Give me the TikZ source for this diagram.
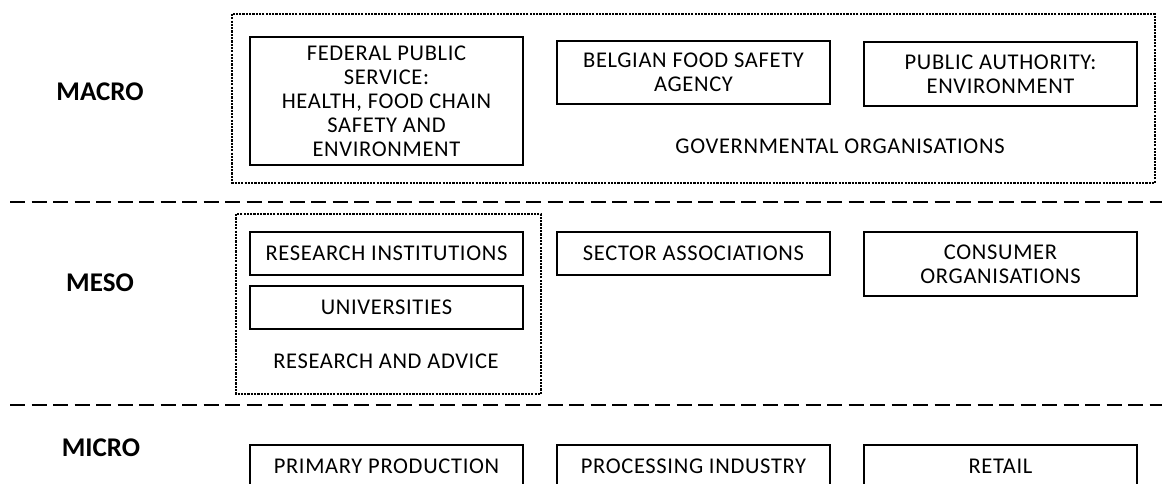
\documentclass[tikz,border=0pt]{standalone}
\usepackage{fontspec}
\setmainfont{Carlito}
\newfontfamily\boxfont{Carlito}[LetterSpace=3]
\usetikzlibrary{positioning}

\tikzset{
  actor/.style={draw, line width=1.9pt, minimum width=273pt, minimum height=43pt,
    inner sep=0pt, align=center, font=\boxfont\fontsize{22.5}{24}\selectfont},
  caption/.style={font=\boxfont\fontsize{22.5}{24}\selectfont},
  level/.style={font=\bfseries\fontsize{27}{30}\selectfont},
  group/.style={line width=1.8pt, dash pattern=on 2.2pt off 1.1pt},
  divider/.style={line width=1.5pt, dash pattern=on 15pt off 6.5pt},
}

\begin{document}
\begin{tikzpicture}[x=1pt,y=-1pt]
  \useasboundingbox (0,0) rectangle (1162,484);

  % levels
  \node[level] (macro) at (100,92) {MACRO};
  \node[level] (meso) at (100,283) {MESO};
  \node[level] (micro) at (101,448) {MICRO};
  \draw[divider] (10,202) -- (1162,202);
  \draw[divider] (10,405) -- (1162,405);

  % macro: government
  \draw[group] (232,14) rectangle (1155,183);
  \node[actor, minimum height=128pt] (fps) at (386.5,101)
    {FEDERAL PUBLIC\\SERVICE:\\HEALTH, FOOD CHAIN\\SAFETY AND\\ENVIRONMENT};
  \node[actor, minimum height=63pt] (afsca) at (693.5,72.5)
    {BELGIAN FOOD SAFETY\\AGENCY};
  \node[actor, minimum height=64pt] (env) at (1000.5,74)
    {PUBLIC AUTHORITY:\\ENVIRONMENT};
  \node[caption] (gov) at (840,146) {GOVERNMENTAL ORGANISATIONS};

  % meso
  \draw[group] (236,214) rectangle (541,394);
  \node[actor] (inst) at (386.5,253.5) {RESEARCH INSTITUTIONS};
  \node[actor, below=9pt of inst] (univ) {UNIVERSITIES};
  \node[caption] (advice) at (386,361) {RESEARCH AND ADVICE};
  \node[actor] (sector) at (693.5,253.5) {SECTOR ASSOCIATIONS};
  \node[actor, minimum height=64pt] (consumer) at (1000.5,264)
    {CONSUMER\\ORGANISATIONS};

  % micro: the chain
  \foreach \x/\n/\t in {386.5/prim/PRIMARY PRODUCTION,693.5/proc/PROCESSING INDUSTRY,1000.5/retail/RETAIL}
    \node[actor] (\n) at (\x,466.5) {\t};
\end{tikzpicture}
\end{document}
